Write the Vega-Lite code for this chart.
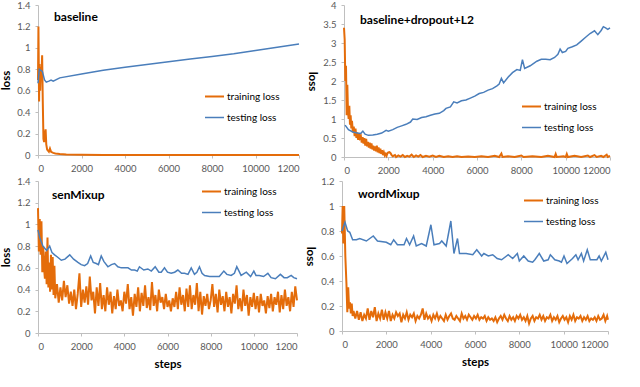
{
  "$schema": "https://vega.github.io/schema/vega-lite/v6.json",
  "padding": {"left": 0, "top": 0, "right": 0, "bottom": 0},
  "autosize": {"type": "pad"},
  "background": "white",
  "config": {
    "font": "Lato",
    "view": {"stroke": null},
    "axis": {"grid": false, "domainColor": "#BFBFBF", "tickColor": "#BFBFBF", "tickSize": 3, "labelColor": "#595959", "labelFontSize": 9.5, "labelFont": "Lato", "titleFont": "Lato", "titleFontSize": 11.5, "titleFontWeight": "bold", "titleColor": "#000000", "labelPadding": 5, "labelOverlap": false},
    "legend": {"orient": "none", "title": null, "symbolType": "stroke", "symbolSize": 361, "labelFontSize": 10, "labelColor": "#000000", "labelOffset": 2, "rowPadding": 5, "padding": 0},
    "title": {"font": "Lato", "fontSize": 12, "fontWeight": "bold", "color": "#000000", "anchor": "start", "frame": "group"}
  },
  "datasets": {
    "baseline": [
      {"step": 0, "training loss": 0.7}, {"step": 20, "training loss": 1.2}, {"step": 50, "training loss": 0.5}, {"step": 70, "training loss": 0.85}, {"step": 100, "training loss": 0.6}, {"step": 130, "training loss": 0.82}, {"step": 160, "training loss": 0.75}, {"step": 190, "training loss": 0.93}, {"step": 220, "training loss": 0.5}, {"step": 250, "training loss": 0.15}, {"step": 280, "training loss": 0.12}, {"step": 320, "training loss": 0.2}, {"step": 350, "training loss": 0.24}, {"step": 380, "training loss": 0.1}, {"step": 420, "training loss": 0.05}, {"step": 460, "training loss": 0.04}, {"step": 500, "training loss": 0.03}, {"step": 550, "training loss": 0.06}, {"step": 600, "training loss": 0.03}, {"step": 700, "training loss": 0.02}, {"step": 800, "training loss": 0.015}, {"step": 1000, "training loss": 0.01}, {"step": 1300, "training loss": 0.005}, {"step": 2000, "training loss": 0.002}, {"step": 3000, "training loss": 0.001}, {"step": 5000, "training loss": 0.001}, {"step": 8000, "training loss": 0}, {"step": 12000, "training loss": 0},
      {"step": 0, "testing loss": 0.67}, {"step": 60, "testing loss": 0.8}, {"step": 200, "testing loss": 0.78}, {"step": 300, "testing loss": 0.7}, {"step": 380, "testing loss": 0.68}, {"step": 500, "testing loss": 0.69}, {"step": 600, "testing loss": 0.7}, {"step": 700, "testing loss": 0.69}, {"step": 1000, "testing loss": 0.72}, {"step": 2000, "testing loss": 0.755}, {"step": 3000, "testing loss": 0.79}, {"step": 4000, "testing loss": 0.82}, {"step": 5000, "testing loss": 0.845}, {"step": 6000, "testing loss": 0.87}, {"step": 7000, "testing loss": 0.895}, {"step": 8000, "testing loss": 0.92}, {"step": 9000, "testing loss": 0.945}, {"step": 10000, "testing loss": 0.975}, {"step": 11000, "testing loss": 1.005}, {"step": 12000, "testing loss": 1.035}
    ],
    "dropout": [
      {"step": 0, "training loss": 3.4}, {"step": 30, "training loss": 3.1}, {"step": 60, "training loss": 2.0}, {"step": 90, "training loss": 2.4}, {"step": 120, "training loss": 1.1}, {"step": 150, "training loss": 1.9}, {"step": 180, "training loss": 1.2}, {"step": 210, "training loss": 1.0}, {"step": 240, "training loss": 1.35}, {"step": 270, "training loss": 0.85}, {"step": 300, "training loss": 1.1}, {"step": 330, "training loss": 0.75}, {"step": 360, "training loss": 0.95}, {"step": 400, "training loss": 0.65}, {"step": 440, "training loss": 0.8}, {"step": 480, "training loss": 0.55}, {"step": 520, "training loss": 0.75}, {"step": 560, "training loss": 0.5}, {"step": 600, "training loss": 0.65}, {"step": 640, "training loss": 0.45}, {"step": 680, "training loss": 0.62}, {"step": 720, "training loss": 0.5}, {"step": 760, "training loss": 0.55}, {"step": 800, "training loss": 0.38}, {"step": 840, "training loss": 0.52}, {"step": 880, "training loss": 0.35}, {"step": 920, "training loss": 0.5}, {"step": 960, "training loss": 0.3}, {"step": 1000, "training loss": 0.48}, {"step": 1040, "training loss": 0.28}, {"step": 1080, "training loss": 0.4}, {"step": 1120, "training loss": 0.25}, {"step": 1160, "training loss": 0.38}, {"step": 1200, "training loss": 0.22}, {"step": 1240, "training loss": 0.36}, {"step": 1280, "training loss": 0.2}, {"step": 1320, "training loss": 0.3}, {"step": 1360, "training loss": 0.17}, {"step": 1400, "training loss": 0.28}, {"step": 1440, "training loss": 0.15}, {"step": 1480, "training loss": 0.3}, {"step": 1520, "training loss": 0.12}, {"step": 1560, "training loss": 0.25}, {"step": 1600, "training loss": 0.1}, {"step": 1640, "training loss": 0.22}, {"step": 1680, "training loss": 0.08}, {"step": 1720, "training loss": 0.18}, {"step": 1760, "training loss": 0.05}, {"step": 1800, "training loss": 0.12}, {"step": 1840, "training loss": 0.04}, {"step": 1880, "training loss": 0.08}, {"step": 1920, "training loss": 0.03}, {"step": 1960, "training loss": 0.1}, {"step": 2000, "training loss": 0.12}, {"step": 2050, "training loss": 0.13}, {"step": 2100, "training loss": 0.1}, {"step": 2150, "training loss": 0.05}, {"step": 2200, "training loss": 0.02}, {"step": 2300, "training loss": 0.05}, {"step": 2350, "training loss": 0.0}, {"step": 2450, "training loss": 0.04}, {"step": 2550, "training loss": 0.01}, {"step": 2650, "training loss": 0.05}, {"step": 2750, "training loss": 0.0}, {"step": 2850, "training loss": 0.03}, {"step": 2950, "training loss": 0.01}, {"step": 3050, "training loss": 0.06}, {"step": 3150, "training loss": 0.0}, {"step": 3250, "training loss": 0.04}, {"step": 3350, "training loss": 0.01}, {"step": 3450, "training loss": 0.05}, {"step": 3550, "training loss": 0.0}, {"step": 3700, "training loss": 0.03}, {"step": 3850, "training loss": 0.01}, {"step": 4000, "training loss": 0.04}, {"step": 4150, "training loss": 0.0}, {"step": 4300, "training loss": 0.03}, {"step": 4500, "training loss": 0.0}, {"step": 4700, "training loss": 0.02}, {"step": 4900, "training loss": 0.0}, {"step": 5100, "training loss": 0.02}, {"step": 5300, "training loss": 0.0}, {"step": 5600, "training loss": 0.01}, {"step": 5900, "training loss": 0.0}, {"step": 6200, "training loss": 0.02}, {"step": 6500, "training loss": 0.0}, {"step": 6800, "training loss": 0.03}, {"step": 7000, "training loss": 0.0}, {"step": 7100, "training loss": 0.09}, {"step": 7150, "training loss": 0.0}, {"step": 7400, "training loss": 0.02}, {"step": 7700, "training loss": 0.0}, {"step": 8000, "training loss": 0.04}, {"step": 8100, "training loss": 0.0}, {"step": 8500, "training loss": 0.02}, {"step": 8900, "training loss": 0.0}, {"step": 9200, "training loss": 0.03}, {"step": 9500, "training loss": 0.0}, {"step": 9550, "training loss": 0.08}, {"step": 9600, "training loss": 0.0}, {"step": 9900, "training loss": 0.02}, {"step": 10000, "training loss": 0.0}, {"step": 10050, "training loss": 0.08}, {"step": 10100, "training loss": 0.0}, {"step": 10400, "training loss": 0.03}, {"step": 10700, "training loss": 0.0}, {"step": 11000, "training loss": 0.04}, {"step": 11100, "training loss": 0.0}, {"step": 11300, "training loss": 0.05}, {"step": 11400, "training loss": 0.0}, {"step": 11600, "training loss": 0.03}, {"step": 11700, "training loss": 0.0}, {"step": 11850, "training loss": 0.06}, {"step": 11900, "training loss": 0.0}, {"step": 12000, "training loss": 0.03},
      {"step": 50, "testing loss": 0.84}, {"step": 200, "testing loss": 0.72}, {"step": 400, "testing loss": 0.66}, {"step": 600, "testing loss": 0.63}, {"step": 750, "testing loss": 0.62}, {"step": 850, "testing loss": 0.68}, {"step": 950, "testing loss": 0.6}, {"step": 1100, "testing loss": 0.57}, {"step": 1300, "testing loss": 0.58}, {"step": 1500, "testing loss": 0.6}, {"step": 1700, "testing loss": 0.63}, {"step": 1900, "testing loss": 0.7}, {"step": 2000, "testing loss": 0.68}, {"step": 2200, "testing loss": 0.72}, {"step": 2400, "testing loss": 0.78}, {"step": 2600, "testing loss": 0.82}, {"step": 2800, "testing loss": 0.86}, {"step": 3000, "testing loss": 0.92}, {"step": 3100, "testing loss": 1.0}, {"step": 3300, "testing loss": 0.99}, {"step": 3500, "testing loss": 1.04}, {"step": 3700, "testing loss": 1.06}, {"step": 3900, "testing loss": 1.1}, {"step": 4100, "testing loss": 1.13}, {"step": 4300, "testing loss": 1.15}, {"step": 4500, "testing loss": 1.22}, {"step": 4600, "testing loss": 1.28}, {"step": 4800, "testing loss": 1.32}, {"step": 4950, "testing loss": 1.45}, {"step": 5100, "testing loss": 1.42}, {"step": 5300, "testing loss": 1.48}, {"step": 5500, "testing loss": 1.5}, {"step": 5700, "testing loss": 1.55}, {"step": 5900, "testing loss": 1.6}, {"step": 6100, "testing loss": 1.67}, {"step": 6300, "testing loss": 1.7}, {"step": 6500, "testing loss": 1.76}, {"step": 6700, "testing loss": 1.8}, {"step": 6900, "testing loss": 1.87}, {"step": 7000, "testing loss": 1.92}, {"step": 7100, "testing loss": 2.07}, {"step": 7200, "testing loss": 1.95}, {"step": 7400, "testing loss": 2.1}, {"step": 7600, "testing loss": 2.22}, {"step": 7800, "testing loss": 2.3}, {"step": 7950, "testing loss": 2.28}, {"step": 8050, "testing loss": 2.56}, {"step": 8150, "testing loss": 2.33}, {"step": 8400, "testing loss": 2.4}, {"step": 8700, "testing loss": 2.52}, {"step": 8900, "testing loss": 2.57}, {"step": 9100, "testing loss": 2.57}, {"step": 9300, "testing loss": 2.56}, {"step": 9500, "testing loss": 2.62}, {"step": 9650, "testing loss": 2.7}, {"step": 9750, "testing loss": 2.84}, {"step": 9850, "testing loss": 2.75}, {"step": 10000, "testing loss": 2.78}, {"step": 10100, "testing loss": 2.86}, {"step": 10300, "testing loss": 2.9}, {"step": 10500, "testing loss": 2.95}, {"step": 10700, "testing loss": 3.05}, {"step": 10900, "testing loss": 3.15}, {"step": 11100, "testing loss": 3.25}, {"step": 11300, "testing loss": 3.32}, {"step": 11450, "testing loss": 3.22}, {"step": 11600, "testing loss": 3.33}, {"step": 11700, "testing loss": 3.43}, {"step": 11800, "testing loss": 3.4}, {"step": 11900, "testing loss": 3.36}, {"step": 12000, "testing loss": 3.4}
    ],
    "sen": [
      {"step": 0, "training loss": 1.15}, {"step": 40, "training loss": 0.75}, {"step": 80, "training loss": 1.05}, {"step": 120, "training loss": 0.72}, {"step": 160, "training loss": 1.03}, {"step": 200, "training loss": 0.56}, {"step": 240, "training loss": 0.8}, {"step": 280, "training loss": 0.6}, {"step": 320, "training loss": 0.5}, {"step": 360, "training loss": 0.75}, {"step": 400, "training loss": 0.45}, {"step": 440, "training loss": 0.88}, {"step": 480, "training loss": 0.42}, {"step": 520, "training loss": 0.65}, {"step": 560, "training loss": 0.38}, {"step": 600, "training loss": 0.72}, {"step": 640, "training loss": 0.4}, {"step": 680, "training loss": 0.7}, {"step": 720, "training loss": 0.35}, {"step": 760, "training loss": 0.62},
      {"step": 800, "training loss": 0.32}, {"step": 880, "training loss": 0.45}, {"step": 960, "training loss": 0.28}, {"step": 1040, "training loss": 0.42}, {"step": 1120, "training loss": 0.3}, {"step": 1200, "training loss": 0.48}, {"step": 1280, "training loss": 0.33}, {"step": 1360, "training loss": 0.44}, {"step": 1440, "training loss": 0.27}, {"step": 1520, "training loss": 0.38}, {"step": 1600, "training loss": 0.25}, {"step": 1680, "training loss": 0.4}, {"step": 1760, "training loss": 0.22}, {"step": 1840, "training loss": 0.36}, {"step": 1920, "training loss": 0.55}, {"step": 2000, "training loss": 0.24}, {"step": 2080, "training loss": 0.4}, {"step": 2160, "training loss": 0.28}, {"step": 2240, "training loss": 0.43}, {"step": 2320, "training loss": 0.26}, {"step": 2400, "training loss": 0.52}, {"step": 2480, "training loss": 0.3}, {"step": 2560, "training loss": 0.38}, {"step": 2640, "training loss": 0.18}, {"step": 2720, "training loss": 0.42}, {"step": 2800, "training loss": 0.25}, {"step": 2880, "training loss": 0.46}, {"step": 2960, "training loss": 0.22}, {"step": 3040, "training loss": 0.35}, {"step": 3120, "training loss": 0.2}, {"step": 3200, "training loss": 0.42}, {"step": 3280, "training loss": 0.26}, {"step": 3360, "training loss": 0.38}, {"step": 3440, "training loss": 0.18}, {"step": 3520, "training loss": 0.34}, {"step": 3600, "training loss": 0.22}, {"step": 3680, "training loss": 0.4}, {"step": 3760, "training loss": 0.25}, {"step": 3840, "training loss": 0.3}, {"step": 3920, "training loss": 0.2}, {"step": 4000, "training loss": 0.38}, {"step": 4080, "training loss": 0.27}, {"step": 4160, "training loss": 0.45}, {"step": 4240, "training loss": 0.22}, {"step": 4320, "training loss": 0.33}, {"step": 4400, "training loss": 0.16}, {"step": 4480, "training loss": 0.36}, {"step": 4560, "training loss": 0.24}, {"step": 4640, "training loss": 0.42}, {"step": 4720, "training loss": 0.2}, {"step": 4800, "training loss": 0.37}, {"step": 4880, "training loss": 0.25}, {"step": 4960, "training loss": 0.44}, {"step": 5040, "training loss": 0.23}, {"step": 5120, "training loss": 0.33}, {"step": 5200, "training loss": 0.21}, {"step": 5280, "training loss": 0.47}, {"step": 5360, "training loss": 0.25}, {"step": 5440, "training loss": 0.35}, {"step": 5520, "training loss": 0.2}, {"step": 5600, "training loss": 0.4}, {"step": 5680, "training loss": 0.28}, {"step": 5760, "training loss": 0.33}, {"step": 5840, "training loss": 0.22}, {"step": 5920, "training loss": 0.36}, {"step": 6000, "training loss": 0.24}, {"step": 6080, "training loss": 0.3}, {"step": 6160, "training loss": 0.2}, {"step": 6240, "training loss": 0.32}, {"step": 6320, "training loss": 0.24}, {"step": 6400, "training loss": 0.38}, {"step": 6480, "training loss": 0.22}, {"step": 6560, "training loss": 0.42}, {"step": 6640, "training loss": 0.26}, {"step": 6720, "training loss": 0.35}, {"step": 6800, "training loss": 0.2}, {"step": 6880, "training loss": 0.41}, {"step": 6960, "training loss": 0.24}, {"step": 7040, "training loss": 0.44}, {"step": 7120, "training loss": 0.22}, {"step": 7200, "training loss": 0.35}, {"step": 7280, "training loss": 0.26}, {"step": 7360, "training loss": 0.46}, {"step": 7440, "training loss": 0.2}, {"step": 7520, "training loss": 0.38}, {"step": 7600, "training loss": 0.17}, {"step": 7680, "training loss": 0.34}, {"step": 7760, "training loss": 0.25}, {"step": 7840, "training loss": 0.36}, {"step": 7920, "training loss": 0.22}, {"step": 8000, "training loss": 0.3}, {"step": 8080, "training loss": 0.45}, {"step": 8160, "training loss": 0.24}, {"step": 8240, "training loss": 0.36}, {"step": 8320, "training loss": 0.19}, {"step": 8400, "training loss": 0.4}, {"step": 8480, "training loss": 0.26}, {"step": 8560, "training loss": 0.34}, {"step": 8640, "training loss": 0.2}, {"step": 8720, "training loss": 0.38}, {"step": 8800, "training loss": 0.24}, {"step": 8880, "training loss": 0.33}, {"step": 8960, "training loss": 0.18}, {"step": 9040, "training loss": 0.36}, {"step": 9120, "training loss": 0.27}, {"step": 9200, "training loss": 0.44}, {"step": 9280, "training loss": 0.22}, {"step": 9360, "training loss": 0.32}, {"step": 9440, "training loss": 0.2}, {"step": 9520, "training loss": 0.4}, {"step": 9600, "training loss": 0.25}, {"step": 9680, "training loss": 0.35}, {"step": 9760, "training loss": 0.16}, {"step": 9840, "training loss": 0.33}, {"step": 9920, "training loss": 0.24}, {"step": 10000, "training loss": 0.37}, {"step": 10080, "training loss": 0.22}, {"step": 10160, "training loss": 0.34}, {"step": 10240, "training loss": 0.19}, {"step": 10320, "training loss": 0.36}, {"step": 10400, "training loss": 0.25}, {"step": 10480, "training loss": 0.3}, {"step": 10560, "training loss": 0.18}, {"step": 10640, "training loss": 0.34}, {"step": 10720, "training loss": 0.23}, {"step": 10800, "training loss": 0.36}, {"step": 10880, "training loss": 0.2}, {"step": 10960, "training loss": 0.33}, {"step": 11040, "training loss": 0.26}, {"step": 11120, "training loss": 0.38}, {"step": 11200, "training loss": 0.19}, {"step": 11280, "training loss": 0.35}, {"step": 11360, "training loss": 0.22}, {"step": 11440, "training loss": 0.4}, {"step": 11520, "training loss": 0.25}, {"step": 11600, "training loss": 0.33}, {"step": 11680, "training loss": 0.2}, {"step": 11760, "training loss": 0.38}, {"step": 11840, "training loss": 0.24}, {"step": 11920, "training loss": 0.43}, {"step": 12000, "training loss": 0.3},
      {"step": 0, "testing loss": 0.95}, {"step": 80, "testing loss": 0.88}, {"step": 230, "testing loss": 0.8}, {"step": 400, "testing loss": 0.76}, {"step": 540, "testing loss": 0.8}, {"step": 650, "testing loss": 0.74}, {"step": 770, "testing loss": 0.72}, {"step": 900, "testing loss": 0.7}, {"step": 1080, "testing loss": 0.67}, {"step": 1250, "testing loss": 0.68}, {"step": 1470, "testing loss": 0.72}, {"step": 1650, "testing loss": 0.68}, {"step": 1850, "testing loss": 0.65}, {"step": 2000, "testing loss": 0.63}, {"step": 2160, "testing loss": 0.62}, {"step": 2300, "testing loss": 0.64}, {"step": 2440, "testing loss": 0.71}, {"step": 2560, "testing loss": 0.65}, {"step": 2700, "testing loss": 0.64}, {"step": 2800, "testing loss": 0.63}, {"step": 2930, "testing loss": 0.71}, {"step": 3050, "testing loss": 0.66}, {"step": 3240, "testing loss": 0.61}, {"step": 3400, "testing loss": 0.63}, {"step": 3550, "testing loss": 0.64}, {"step": 3700, "testing loss": 0.61}, {"step": 3860, "testing loss": 0.6}, {"step": 4000, "testing loss": 0.6}, {"step": 4170, "testing loss": 0.6}, {"step": 4330, "testing loss": 0.58}, {"step": 4480, "testing loss": 0.58}, {"step": 4600, "testing loss": 0.57}, {"step": 4700, "testing loss": 0.61}, {"step": 4900, "testing loss": 0.58}, {"step": 5090, "testing loss": 0.59}, {"step": 5250, "testing loss": 0.57}, {"step": 5430, "testing loss": 0.61}, {"step": 5600, "testing loss": 0.56}, {"step": 5710, "testing loss": 0.56}, {"step": 5860, "testing loss": 0.6}, {"step": 6000, "testing loss": 0.56}, {"step": 6170, "testing loss": 0.55}, {"step": 6330, "testing loss": 0.56}, {"step": 6480, "testing loss": 0.58}, {"step": 6650, "testing loss": 0.55}, {"step": 6790, "testing loss": 0.55}, {"step": 6950, "testing loss": 0.54}, {"step": 7100, "testing loss": 0.6}, {"step": 7250, "testing loss": 0.54}, {"step": 7360, "testing loss": 0.56}, {"step": 7480, "testing loss": 0.61}, {"step": 7600, "testing loss": 0.55}, {"step": 7720, "testing loss": 0.53}, {"step": 7950, "testing loss": 0.52}, {"step": 8180, "testing loss": 0.52}, {"step": 8400, "testing loss": 0.52}, {"step": 8610, "testing loss": 0.57}, {"step": 8750, "testing loss": 0.54}, {"step": 8950, "testing loss": 0.53}, {"step": 9100, "testing loss": 0.55}, {"step": 9210, "testing loss": 0.61}, {"step": 9410, "testing loss": 0.53}, {"step": 9650, "testing loss": 0.56}, {"step": 9850, "testing loss": 0.52}, {"step": 10000, "testing loss": 0.57}, {"step": 10100, "testing loss": 0.53}, {"step": 10250, "testing loss": 0.53}, {"step": 10450, "testing loss": 0.52}, {"step": 10650, "testing loss": 0.55}, {"step": 10800, "testing loss": 0.51}, {"step": 11000, "testing loss": 0.5}, {"step": 11230, "testing loss": 0.54}, {"step": 11400, "testing loss": 0.51}, {"step": 11550, "testing loss": 0.51}, {"step": 11730, "testing loss": 0.53}, {"step": 11850, "testing loss": 0.51}, {"step": 12000, "testing loss": 0.5}
    ],
    "word": [
      {"step": 0, "training loss": 0.78}, {"step": 30, "training loss": 1.0}, {"step": 60, "training loss": 0.7}, {"step": 100, "training loss": 1.0}, {"step": 150, "training loss": 0.6}, {"step": 200, "training loss": 0.38}, {"step": 240, "training loss": 0.15}, {"step": 280, "training loss": 0.35}, {"step": 320, "training loss": 0.18}, {"step": 360, "training loss": 0.23}, {"step": 400, "training loss": 0.14}, {"step": 440, "training loss": 0.22}, {"step": 480, "training loss": 0.12}, {"step": 520, "training loss": 0.16},
      {"step": 600, "training loss": 0.1}, {"step": 680, "training loss": 0.16}, {"step": 760, "training loss": 0.09}, {"step": 840, "training loss": 0.15}, {"step": 920, "training loss": 0.08}, {"step": 1000, "training loss": 0.13}, {"step": 1080, "training loss": 0.1}, {"step": 1160, "training loss": 0.18}, {"step": 1240, "training loss": 0.09}, {"step": 1320, "training loss": 0.16}, {"step": 1400, "training loss": 0.11}, {"step": 1480, "training loss": 0.19}, {"step": 1560, "training loss": 0.08}, {"step": 1640, "training loss": 0.14}, {"step": 1720, "training loss": 0.1}, {"step": 1800, "training loss": 0.17}, {"step": 1880, "training loss": 0.09}, {"step": 1960, "training loss": 0.15}, {"step": 2040, "training loss": 0.1}, {"step": 2120, "training loss": 0.16}, {"step": 2200, "training loss": 0.08}, {"step": 2280, "training loss": 0.13}, {"step": 2360, "training loss": 0.1}, {"step": 2440, "training loss": 0.15}, {"step": 2520, "training loss": 0.12}, {"step": 2600, "training loss": 0.14}, {"step": 2680, "training loss": 0.07}, {"step": 2760, "training loss": 0.13}, {"step": 2840, "training loss": 0.1}, {"step": 2920, "training loss": 0.15}, {"step": 3000, "training loss": 0.09}, {"step": 3080, "training loss": 0.13}, {"step": 3160, "training loss": 0.11}, {"step": 3240, "training loss": 0.14}, {"step": 3320, "training loss": 0.08}, {"step": 3400, "training loss": 0.12}, {"step": 3480, "training loss": 0.1}, {"step": 3560, "training loss": 0.13}, {"step": 3640, "training loss": 0.18}, {"step": 3720, "training loss": 0.09}, {"step": 3800, "training loss": 0.14}, {"step": 3880, "training loss": 0.1}, {"step": 3960, "training loss": 0.12}, {"step": 4040, "training loss": 0.08}, {"step": 4120, "training loss": 0.13}, {"step": 4200, "training loss": 0.1}, {"step": 4280, "training loss": 0.14}, {"step": 4360, "training loss": 0.09}, {"step": 4440, "training loss": 0.12}, {"step": 4520, "training loss": 0.1}, {"step": 4600, "training loss": 0.08}, {"step": 4680, "training loss": 0.13}, {"step": 4760, "training loss": 0.09}, {"step": 4840, "training loss": 0.12}, {"step": 4920, "training loss": 0.14}, {"step": 5000, "training loss": 0.1}, {"step": 5080, "training loss": 0.09}, {"step": 5160, "training loss": 0.12}, {"step": 5240, "training loss": 0.1}, {"step": 5320, "training loss": 0.08}, {"step": 5400, "training loss": 0.14}, {"step": 5480, "training loss": 0.1}, {"step": 5560, "training loss": 0.12}, {"step": 5640, "training loss": 0.09}, {"step": 5720, "training loss": 0.13}, {"step": 5800, "training loss": 0.11}, {"step": 5880, "training loss": 0.09}, {"step": 5960, "training loss": 0.12}, {"step": 6040, "training loss": 0.1}, {"step": 6120, "training loss": 0.13}, {"step": 6200, "training loss": 0.09}, {"step": 6280, "training loss": 0.11}, {"step": 6360, "training loss": 0.1}, {"step": 6440, "training loss": 0.12}, {"step": 6520, "training loss": 0.08}, {"step": 6600, "training loss": 0.11}, {"step": 6680, "training loss": 0.09}, {"step": 6760, "training loss": 0.1}, {"step": 6840, "training loss": 0.08}, {"step": 6920, "training loss": 0.11}, {"step": 7000, "training loss": 0.07}, {"step": 7080, "training loss": 0.1}, {"step": 7160, "training loss": 0.12}, {"step": 7240, "training loss": 0.09}, {"step": 7320, "training loss": 0.13}, {"step": 7400, "training loss": 0.1}, {"step": 7480, "training loss": 0.08}, {"step": 7560, "training loss": 0.12}, {"step": 7640, "training loss": 0.09}, {"step": 7720, "training loss": 0.11}, {"step": 7800, "training loss": 0.08}, {"step": 7880, "training loss": 0.12}, {"step": 7960, "training loss": 0.1}, {"step": 8040, "training loss": 0.13}, {"step": 8120, "training loss": 0.09}, {"step": 8200, "training loss": 0.11}, {"step": 8280, "training loss": 0.08}, {"step": 8360, "training loss": 0.12}, {"step": 8440, "training loss": 0.06}, {"step": 8520, "training loss": 0.1}, {"step": 8600, "training loss": 0.12}, {"step": 8680, "training loss": 0.08}, {"step": 8760, "training loss": 0.11}, {"step": 8840, "training loss": 0.1}, {"step": 8920, "training loss": 0.13}, {"step": 9000, "training loss": 0.09}, {"step": 9080, "training loss": 0.12}, {"step": 9160, "training loss": 0.08}, {"step": 9240, "training loss": 0.11}, {"step": 9320, "training loss": 0.1}, {"step": 9400, "training loss": 0.13}, {"step": 9480, "training loss": 0.08}, {"step": 9560, "training loss": 0.11}, {"step": 9640, "training loss": 0.09}, {"step": 9720, "training loss": 0.12}, {"step": 9800, "training loss": 0.07}, {"step": 9880, "training loss": 0.1}, {"step": 9960, "training loss": 0.12}, {"step": 10040, "training loss": 0.09}, {"step": 10120, "training loss": 0.11}, {"step": 10200, "training loss": 0.07}, {"step": 10280, "training loss": 0.12}, {"step": 10360, "training loss": 0.09}, {"step": 10440, "training loss": 0.13}, {"step": 10520, "training loss": 0.08}, {"step": 10600, "training loss": 0.11}, {"step": 10680, "training loss": 0.1}, {"step": 10760, "training loss": 0.12}, {"step": 10840, "training loss": 0.08}, {"step": 10920, "training loss": 0.11}, {"step": 11000, "training loss": 0.09}, {"step": 11080, "training loss": 0.12}, {"step": 11160, "training loss": 0.08}, {"step": 11240, "training loss": 0.1}, {"step": 11320, "training loss": 0.09}, {"step": 11400, "training loss": 0.11}, {"step": 11480, "training loss": 0.08}, {"step": 11560, "training loss": 0.12}, {"step": 11640, "training loss": 0.09}, {"step": 11720, "training loss": 0.1}, {"step": 11800, "training loss": 0.13}, {"step": 11880, "training loss": 0.08}, {"step": 11960, "training loss": 0.12}, {"step": 12000, "training loss": 0.09},
      {"step": 0, "testing loss": 0.8}, {"step": 135, "testing loss": 0.87}, {"step": 255, "testing loss": 0.8}, {"step": 350, "testing loss": 0.79}, {"step": 480, "testing loss": 0.73}, {"step": 650, "testing loss": 0.73}, {"step": 800, "testing loss": 0.74}, {"step": 1100, "testing loss": 0.72}, {"step": 1410, "testing loss": 0.76}, {"step": 1600, "testing loss": 0.72}, {"step": 2000, "testing loss": 0.71}, {"step": 2200, "testing loss": 0.69}, {"step": 2330, "testing loss": 0.73}, {"step": 2500, "testing loss": 0.69}, {"step": 2800, "testing loss": 0.69}, {"step": 2910, "testing loss": 0.74}, {"step": 3050, "testing loss": 0.69}, {"step": 3230, "testing loss": 0.76}, {"step": 3350, "testing loss": 0.68}, {"step": 3590, "testing loss": 0.7}, {"step": 3800, "testing loss": 0.68}, {"step": 4010, "testing loss": 0.85}, {"step": 4150, "testing loss": 0.69}, {"step": 4400, "testing loss": 0.7}, {"step": 4500, "testing loss": 0.72}, {"step": 4700, "testing loss": 0.68}, {"step": 4910, "testing loss": 0.88}, {"step": 5050, "testing loss": 0.62}, {"step": 5210, "testing loss": 0.74}, {"step": 5300, "testing loss": 0.62}, {"step": 5600, "testing loss": 0.62}, {"step": 5900, "testing loss": 0.61}, {"step": 6080, "testing loss": 0.65}, {"step": 6300, "testing loss": 0.6}, {"step": 6400, "testing loss": 0.62}, {"step": 6600, "testing loss": 0.6}, {"step": 6800, "testing loss": 0.61}, {"step": 7000, "testing loss": 0.58}, {"step": 7200, "testing loss": 0.57}, {"step": 7500, "testing loss": 0.61}, {"step": 7700, "testing loss": 0.58}, {"step": 7910, "testing loss": 0.62}, {"step": 8000, "testing loss": 0.56}, {"step": 8200, "testing loss": 0.6}, {"step": 8400, "testing loss": 0.56}, {"step": 8600, "testing loss": 0.55}, {"step": 8700, "testing loss": 0.57}, {"step": 8900, "testing loss": 0.62}, {"step": 9100, "testing loss": 0.56}, {"step": 9300, "testing loss": 0.57}, {"step": 9400, "testing loss": 0.61}, {"step": 9600, "testing loss": 0.57}, {"step": 9800, "testing loss": 0.56}, {"step": 9900, "testing loss": 0.55}, {"step": 10015, "testing loss": 0.6}, {"step": 10150, "testing loss": 0.54}, {"step": 10400, "testing loss": 0.58}, {"step": 10550, "testing loss": 0.61}, {"step": 10650, "testing loss": 0.57}, {"step": 10800, "testing loss": 0.62}, {"step": 10900, "testing loss": 0.56}, {"step": 11065, "testing loss": 0.65}, {"step": 11200, "testing loss": 0.57}, {"step": 11500, "testing loss": 0.57}, {"step": 11600, "testing loss": 0.6}, {"step": 11700, "testing loss": 0.56}, {"step": 11900, "testing loss": 0.63}, {"step": 12000, "testing loss": 0.57}
    ]
  },
  "vconcat": [
    {
      "hconcat": [
        {
          "width": 261, "height": 150,
          "title": {"text": "baseline", "offset": -24, "dx": 16},
          "data": {"name": "baseline"},
          "transform": [{"fold": ["training loss", "testing loss"], "as": ["series", "loss"]}, {"filter": "isValid(datum.loss)"}],
          "mark": {"type": "line", "interpolate": "linear"},
          "encoding": {
            "x": {"field": "step", "type": "quantitative", "scale": {"domain": [0, 12000], "nice": false}, "axis": {"values": [0, 2000, 4000, 6000, 8000, 10000, 12000], "format": "d", "labelExpr": "datum.value == 12000 ? '1200' : datum.label", "title": null}},
            "y": {"field": "loss", "type": "quantitative", "scale": {"domain": [0, 1.4], "nice": false}, "axis": {"values": [0, 0.2, 0.4, 0.6, 0.8, 1, 1.2, 1.4], "format": ".1~f", "title": "loss", "titlePadding": 5}},
            "color": {"field": "series", "type": "nominal", "scale": {"domain": ["training loss", "testing loss"], "range": ["#E46C0A", "#4A7EBB"]}, "legend": {"legendX": 166, "legendY": 81}},
            "strokeWidth": {"field": "series", "type": "nominal", "scale": {"domain": ["training loss", "testing loss"], "range": [2, 1.5]}, "legend": {"legendX": 166, "legendY": 81}}
          }
        },
        {
          "width": 266, "height": 152,
          "title": {"text": "baseline+dropout+L2", "offset": -27, "dx": 16},
          "data": {"name": "dropout"},
          "transform": [{"fold": ["training loss", "testing loss"], "as": ["series", "loss"]}, {"filter": "isValid(datum.loss)"}],
          "mark": {"type": "line", "interpolate": "linear"},
          "encoding": {
            "x": {"field": "step", "type": "quantitative", "scale": {"domain": [0, 12000], "nice": false}, "axis": {"values": [0, 2000, 4000, 6000, 8000, 10000, 12000], "format": "d", "title": null}},
            "y": {"field": "loss", "type": "quantitative", "scale": {"domain": [0, 4], "nice": false}, "axis": {"values": [0, 0.5, 1, 1.5, 2, 2.5, 3, 3.5, 4], "format": ".1~f", "title": "loss", "titleAngle": 90, "titlePadding": 16}},
            "color": {"field": "series", "type": "nominal", "scale": {"domain": ["training loss", "testing loss"], "range": ["#E46C0A", "#4A7EBB"]}, "legend": {"legendX": 177, "legendY": 91}},
            "strokeWidth": {"field": "series", "type": "nominal", "scale": {"domain": ["training loss", "testing loss"], "range": [2, 1.5]}, "legend": {"legendX": 177, "legendY": 91}}
          }
        }
      ],
      "spacing": 45,
      "bounds": "flush",
      "resolve": {"legend": {"color": "independent", "strokeWidth": "independent"}, "scale": {"x": "independent", "y": "independent"}}
    },
    {
      "hconcat": [
        {
          "width": 259, "height": 152,
          "title": {"text": "senMixup", "offset": -26, "dx": 14},
          "data": {"name": "sen"},
          "transform": [{"fold": ["training loss", "testing loss"], "as": ["series", "loss"]}, {"filter": "isValid(datum.loss)"}],
          "mark": {"type": "line", "interpolate": "linear"},
          "encoding": {
            "x": {"field": "step", "type": "quantitative", "scale": {"domain": [0, 12000], "nice": false}, "axis": {"values": [0, 2000, 4000, 6000, 8000, 10000, 12000], "format": "d", "labelExpr": "datum.value == 12000 ? '1200' : datum.label", "title": "steps", "titlePadding": 8}},
            "y": {"field": "loss", "type": "quantitative", "scale": {"domain": [0, 1.4], "nice": false}, "axis": {"values": [0, 0.2, 0.4, 0.6, 0.8, 1, 1.2, 1.4], "format": ".1~f", "title": "loss", "titlePadding": 5}},
            "color": {"field": "series", "type": "nominal", "scale": {"domain": ["training loss", "testing loss"], "range": ["#E46C0A", "#4A7EBB"]}, "legend": {"legendX": 163, "legendY": 0}},
            "strokeWidth": {"field": "series", "type": "nominal", "scale": {"domain": ["training loss", "testing loss"], "range": [2.2, 1.5]}, "legend": {"legendX": 163, "legendY": 0}}
          }
        },
        {
          "width": 266, "height": 150,
          "title": {"text": "wordMixup", "offset": -25, "dx": 16},
          "data": {"name": "word"},
          "transform": [{"fold": ["training loss", "testing loss"], "as": ["series", "loss"]}, {"filter": "isValid(datum.loss)"}],
          "mark": {"type": "line", "interpolate": "linear"},
          "encoding": {
            "x": {"field": "step", "type": "quantitative", "scale": {"domain": [0, 12000], "nice": false}, "axis": {"values": [0, 2000, 4000, 6000, 8000, 10000, 12000], "format": "d", "title": "steps", "titlePadding": 8}},
            "y": {"field": "loss", "type": "quantitative", "scale": {"domain": [0, 1.2], "nice": false}, "axis": {"values": [0, 0.2, 0.4, 0.6, 0.8, 1, 1.2], "format": ".1~f", "title": "loss", "titleAngle": 90, "titlePadding": 16}},
            "color": {"field": "series", "type": "nominal", "scale": {"domain": ["training loss", "testing loss"], "range": ["#E46C0A", "#4A7EBB"]}, "legend": {"legendX": 181, "legendY": 9}},
            "strokeWidth": {"field": "series", "type": "nominal", "scale": {"domain": ["training loss", "testing loss"], "range": [2.2, 1.5]}, "legend": {"legendX": 181, "legendY": 9}}
          }
        }
      ],
      "spacing": 45,
      "bounds": "flush",
      "resolve": {"legend": {"color": "independent", "strokeWidth": "independent"}, "scale": {"x": "independent", "y": "independent"}}
    }
  ],
  "spacing": 1,
  "resolve": {"legend": {"color": "independent", "strokeWidth": "independent"}}
}
